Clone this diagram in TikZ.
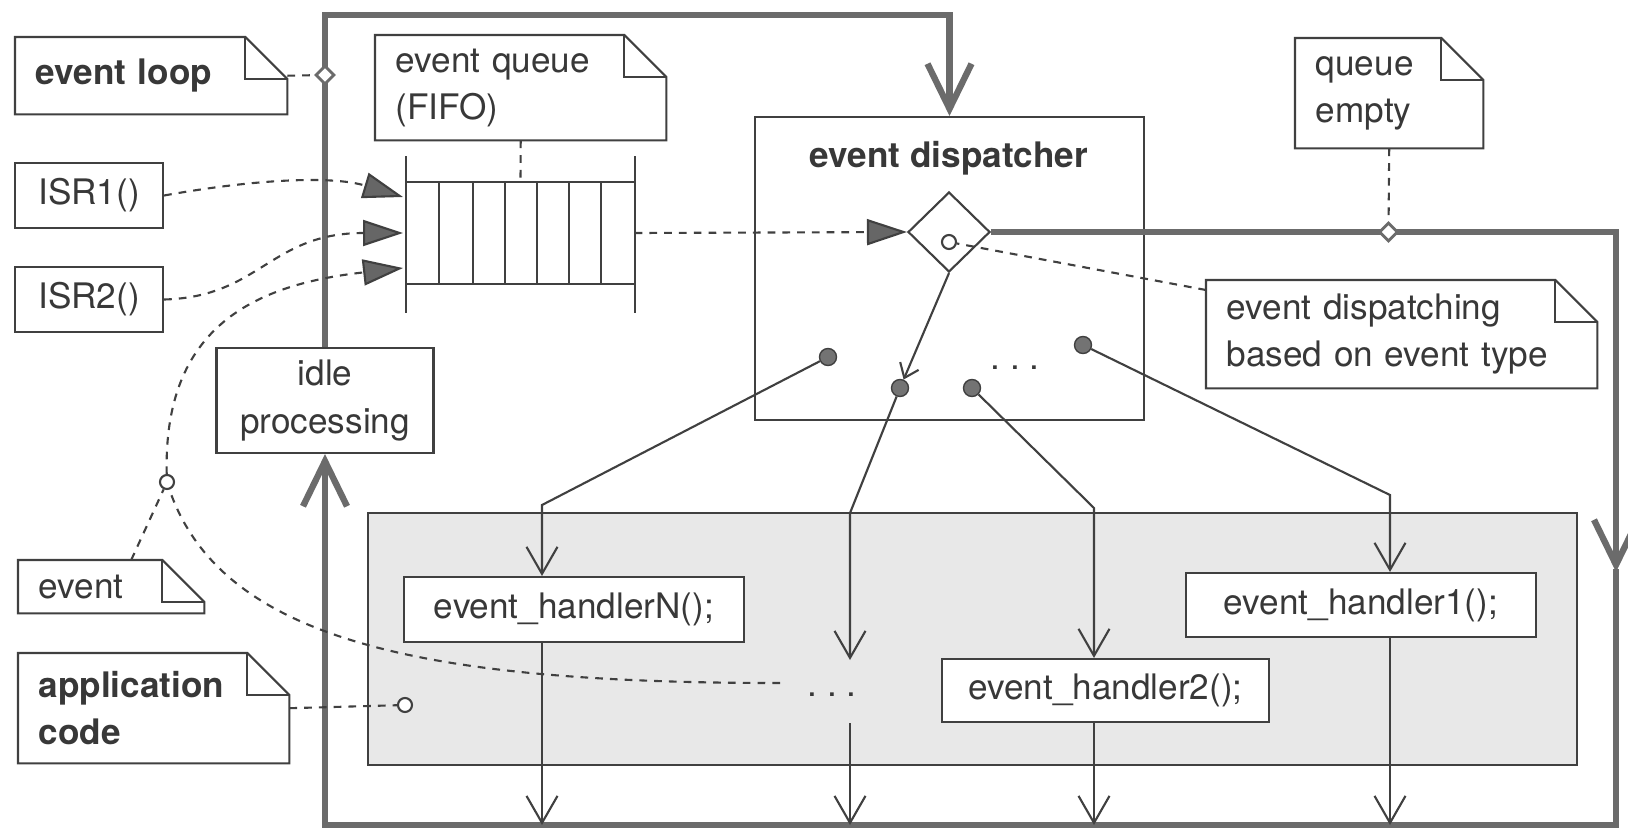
\documentclass[tikz,border=0pt]{standalone}
\usepackage{fontspec}
\setmainfont{TeX Gyre Heros}
\usetikzlibrary{arrows.meta,shapes.geometric}
\colorlet{ink}{black!75}
\colorlet{textgray}{black!78}
\colorlet{loopgray}{black!58}
\colorlet{dotgray}{black!55}
\colorlet{shade}{black!9}
\tikzset{
  box/.style={draw=ink, line width=0.6pt, fill=white, text=textgray, inner sep=0pt},
  note/.style={fill=white, text=textgray, align=left, anchor=north west, inner xsep=2mm, inner ysep=0pt},
  notestroke/.style={draw=ink, line width=0.6pt, line join=miter},
  flow/.style={draw=ink, line width=0.6pt},
  dep/.style={draw=ink, line width=0.6pt, dash pattern=on 2.2pt off 2pt},
  mainloop/.style={draw=loopgray, line width=1.8pt},
  dot/.style={circle, fill=dotgray, draw=ink, line width=0.4pt, inner sep=0pt, minimum size=1.7mm},
  ring/.style={circle, draw=ink, fill=white, line width=0.6pt, inner sep=0pt, minimum size=1.4mm},
  loopdiam/.style={diamond, draw=loopgray, fill=white, line width=0.8pt, inner sep=0pt, minimum size=1.9mm},
  barbL/.tip={Straight Barb[length=4.5mm,width=4.4mm]},
  barbS/.tip={Straight Barb[length=2.7mm,width=3.1mm]},
  barbXS/.tip={Straight Barb[length=1.3mm,width=2mm]},
  filltri/.tip={Triangle[length=4mm,width=2.6mm,fill=black!60]}
}
% folded corner of a note
\newcommand{\dogear}[1]{%
  \draw[notestroke] (#1.north west) -- ([xshift=-4.2mm]#1.north east)
    -- ([yshift=-4.2mm]#1.north east) -- (#1.south east) -- (#1.south west) -- cycle;
  \draw[notestroke] ([xshift=-4.2mm]#1.north east) |- ([yshift=-4.2mm]#1.north east);
}

\begin{document}
\begin{tikzpicture}[font=\fontsize{10}{13.4}\selectfont]
  \useasboundingbox (0,0) rectangle (16.28,-8.28);
  \fill[white] (0,0) rectangle (16.28,-8.28);
  % handler region
  \node[box, fill=shade, minimum width=120.9mm, minimum height=25.2mm] (handlers) at (9.725,-6.39) {};
  % notes
  \node[note, text width=2.31cm, minimum height=7.6mm] (loopnote) at (0.15,-0.37) {\textbf{event loop}};
  \node[note, text width=2.50cm, minimum height=10.4mm] (queuenote) at (3.75,-0.35) {event queue\\(FIFO)};
  \node[note, text width=1.47cm, minimum height=10.9mm] (emptynote) at (12.95,-0.38) {queue\\empty};
  \node[note, text width=3.50cm, minimum height=10.7mm] (dispnote) at (12.06,-2.80) {event dispatching\\based on event type};
  \node[note, text width=1.45cm, minimum height=5.2mm] (eventnote) at (0.18,-5.60) {event};
  \node[note, text width=2.30cm, minimum height=10.9mm] (appnote) at (0.18,-6.53) {\textbf{application}\\\textbf{code}};
  \foreach \n in {loopnote,queuenote,emptynote,dispnote,eventnote,appnote} {\dogear{\n}}
  % boxes
  \node[box, minimum width=14.8mm, minimum height=6.5mm] (isr1) at (0.89,-1.955) {ISR1()};
  \node[box, minimum width=14.8mm, minimum height=6.5mm] (isr2) at (0.89,-2.995) {ISR2()};
  \node[box, minimum width=21.7mm, minimum height=10.5mm, align=center] (idle) at (3.25,-4.005) {idle\\processing};
  \node[box, minimum width=38.9mm, minimum height=30.3mm] (disp) at (9.495,-2.685) {};
  \node[text=textgray] (disptitle) at (9.49,-1.58) {\textbf{event dispatcher}};
  \node[diamond, draw=ink, line width=0.6pt, fill=white, inner sep=0pt, minimum width=8.2mm, minimum height=8mm] (choice) at (9.49,-2.32) {};
  \node[ring] (choicering) at (9.49,-2.42) {};
  \node[dot] (dot1) at (8.28,-3.57) {};
  \node[dot] (dot2) at (9.00,-3.88) {};
  \node[dot] (dot3) at (9.72,-3.88) {};
  \node[dot] (dot4) at (10.83,-3.45) {};
  \node[text=textgray] (dispdots) at (10.15,-3.68) {.\ .\ .};
  \node[box, minimum width=34mm, minimum height=6.5mm] (handlerN) at (5.74,-6.095) {event\_handlerN();};
  \node[box, minimum width=32.7mm, minimum height=6.3mm] (handler2) at (11.055,-6.905) {event\_handler2();};
  \node[box, minimum width=35mm, minimum height=6.4mm] (handler1) at (13.61,-6.05) {event\_handler1();};
  \node[text=textgray] (moredots) at (8.32,-6.95) {.\ .\ .};
  % queue
  \node[minimum width=22.7mm, minimum height=10mm, inner sep=0pt] (queue) at (5.205,-2.33) {};
  \draw[flow] (queue.north west) -- (queue.north east) (queue.south west) -- (queue.south east);
  \draw[flow] ([yshift=2.6mm]queue.north west) -- ([yshift=-2.9mm]queue.south west);
  \draw[flow] ([yshift=2.6mm]queue.north east) -- ([yshift=-2.9mm]queue.south east);
  \foreach \x in {4.39,4.73,5.05,5.37,5.69,6.01} {
    \draw[flow] (\x,-1.83) -- (\x,-2.83);
  }
  \coordinate (qin1) at (4.03,-1.97);
  \coordinate (qin2) at (4.03,-2.33);
  \coordinate (qin3) at (4.03,-2.68);
  % main loop
  \coordinate (looptl) at (3.25,-0.15);
  \coordinate (looptr) at (9.495,-0.15);
  \coordinate (loopne) at (16.16,-2.32);
  \coordinate (loopmid) at (16.16,-5.72);
  \coordinate (loopse) at (16.16,-8.25);
  \coordinate (loopsw) at (3.25,-8.25);
  \draw[mainloop, -{barbL}] (loopsw) -- (idle.south);
  \draw[mainloop, -{barbL}] (idle.north) -- (looptl) -- (looptr) -- (disp.north);
  \draw[mainloop, -{barbL}] (choice.east) -- (loopne) -- (loopmid);
  \draw[mainloop, line cap=rect] (loopmid) -- (loopse) -- (loopsw);
  \node[loopdiam] (loopmark) at (3.25,-0.75) {};
  \node[loopdiam] (emptymark) at (13.885,-2.32) {};
  % events into the queue
  \coordinate (postsrc) at (7.8,-6.83);
  \coordinate (evpt) at (1.67,-4.82);
  \draw[dep, -{filltri}] (isr1.east) .. controls (2.5,-1.80) and (3.3,-1.75) .. (qin1);
  \draw[dep, -{filltri}] (isr2.east) .. controls (2.6,-2.97) and (2.7,-2.33) .. (qin2);
  \draw[dep, -{filltri}] (postsrc) .. controls (4.2,-6.83) and (2.15,-6.4) .. (evpt)
    .. controls (1.6,-3.3) and (2.5,-2.85) .. (qin3);
  \draw[dep, -{filltri}] (queue.east) -- (choice.west);
  \node[ring] (evring) at (evpt) {};
  \node[ring] (appring) at (4.05,-7.05) {};
  % note links
  \draw[dep] (loopnote.east) -- (loopmark);
  \draw[dep] (queuenote.south) -- (queue.north);
  \draw[dep] (emptynote.south) -- (emptymark);
  \draw[dep] ([yshift=-1mm]dispnote.north west) -- (choicering);
  \draw[dep] ([xshift=2mm]eventnote.north) -- (evring);
  \draw[dep] (appnote.east) -- (appring);
  % dispatching
  \coordinate (c1) at (5.42,-5.05);
  \coordinate (c2) at (8.50,-5.13);
  \coordinate (c3) at (10.94,-5.08);
  \coordinate (c4) at (13.90,-4.95);
  \coordinate (c2top) at (8.50,-6.60);
  \coordinate (c2bot) at (8.50,-7.23);
  \draw[flow, -{barbXS}] (choice.south) -- (dot2);
  \draw[flow, -{barbS}] (dot1) -- (c1) -- (c1 |- handlerN.north);
  \draw[flow, -{barbS}] (dot2) -- (c2) -- (c2top);
  \draw[flow, -{barbS}] (dot3) -- (c3) -- (c3 |- handler2.north);
  \draw[flow, -{barbS}] (dot4) -- (c4) -- (c4 |- handler1.north);
  \draw[flow, -{barbS}] (c1 |- handlerN.south) -- (c1 |- loopsw);
  \draw[flow, -{barbS}] (c2bot) -- (c2bot |- loopsw);
  \draw[flow, -{barbS}] (c3 |- handler2.south) -- (c3 |- loopsw);
  \draw[flow, -{barbS}] (c4 |- handler1.south) -- (c4 |- loopsw);
\end{tikzpicture}
\end{document}
